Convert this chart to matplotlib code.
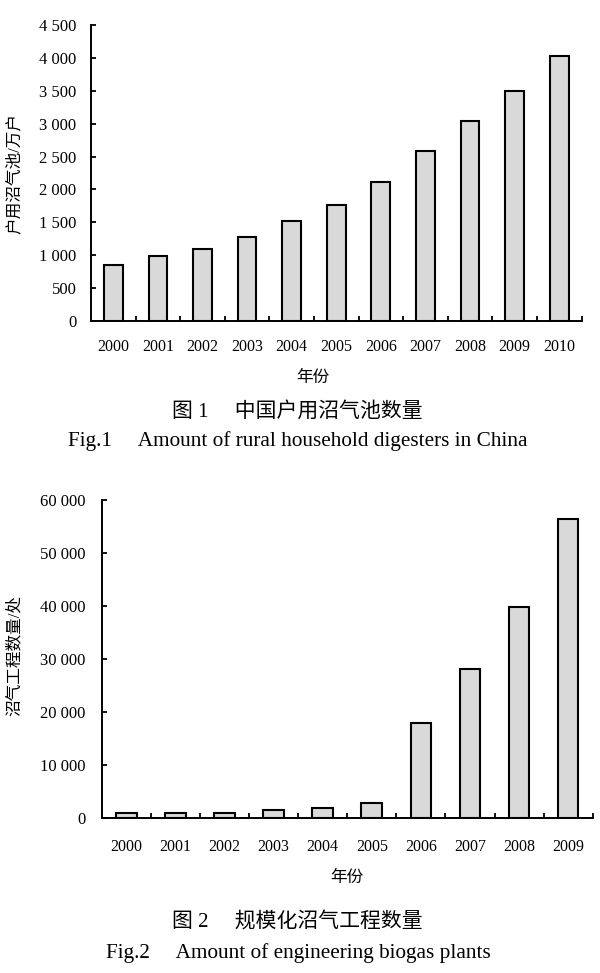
import matplotlib
matplotlib.use("Agg")
import matplotlib.pyplot as plt
from matplotlib.ticker import FuncFormatter, FixedLocator
import numpy as np

plt.rcParams['font.family'] = ['Liberation Serif', 'Noto Sans CJK SC', 'DejaVu Sans']

years1 = ['2000', '2001', '2002', '2003', '2004', '2005', '2006', '2007', '2008', '2009', '2010']
household = [851, 990, 1100, 1270, 1520, 1765, 2120, 2580, 3040, 3500, 4030]

years2 = ['2000', '2001', '2002', '2003', '2004', '2005', '2006', '2007', '2008', '2009']
plants = [1000, 1000, 1000, 1500, 1900, 2850, 18000, 28200, 39900, 56500]

cn_font = ['Liberation Serif', 'Noto Sans CJK SC']

fig = plt.figure(figsize=(6, 9.73), dpi=100)

def fmt(v, pos):
    return '{:,}'.format(int(v)).replace(',', ' ')

def style(ax, cats, vals, ymax, ystep, xpad, ypad):
    x = np.arange(len(cats))
    ax.bar(x, vals, width=0.42, color='#d9d9d9', edgecolor='black', linewidth=1.5, zorder=3)
    ax.set_xlim(-0.5, len(cats) - 0.5)
    ax.set_ylim(0, ymax)
    ax.set_yticks(np.arange(0, ymax + 1, ystep))
    ax.yaxis.set_major_formatter(FuncFormatter(fmt))
    ax.set_xticks(x)
    ax.set_xticklabels(cats)
    ax.xaxis.set_minor_locator(FixedLocator(np.arange(0.5, len(cats), 1.0)))
    ax.tick_params(axis='x', which='major', length=0, pad=xpad, labelsize=11.5,
                   labelfontfamily='Liberation Serif')
    ax.tick_params(axis='x', which='minor', length=3.5, width=1.3, direction='in')
    ax.tick_params(axis='y', length=3.5, width=1.3, direction='in', pad=ypad, labelsize=12,
                   labelfontfamily='Liberation Serif')
    for s in ['top', 'right']:
        ax.spines[s].set_visible(False)
    for s in ['left', 'bottom']:
        ax.spines[s].set_linewidth(1.4)

ax1 = fig.add_axes([91/600, 1 - 321/973, 490.5/600, 296/973])
style(ax1, years1, household, 4500, 500, 13, 10.5)

ax2 = fig.add_axes([101.7/600, 1 - 818.3/973, 491/600, 318.3/973])
style(ax2, years2, plants, 60000, 10000, 15, 11.5)

def T(xp, yp, s, size, rot=0, ha='center', weight='normal'):
    fig.text(xp/600, 1 - yp/973, s, ha=ha, va='center', fontsize=size,
             rotation=rot, family=cn_font, fontweight=weight)

T(15, 173, '户用沼气池/万户', 12, 90)
T(313, 378, '年份', 12)
T(172, 412, '图 1     中国户用沼气池数量', 15, ha='left', weight='light')
T(298, 441, 'Fig.1     Amount of rural household digesters in China', 15.3)

T(15, 655, '沼气工程数量/处', 12, 90)
T(347, 878, '年份', 12)
T(172, 922, '图 2     规模化沼气工程数量', 15, ha='left', weight='light')
T(298.5, 953, 'Fig.2     Amount of engineering biogas plants', 15.3)

fig.savefig('out.png', dpi=100)
